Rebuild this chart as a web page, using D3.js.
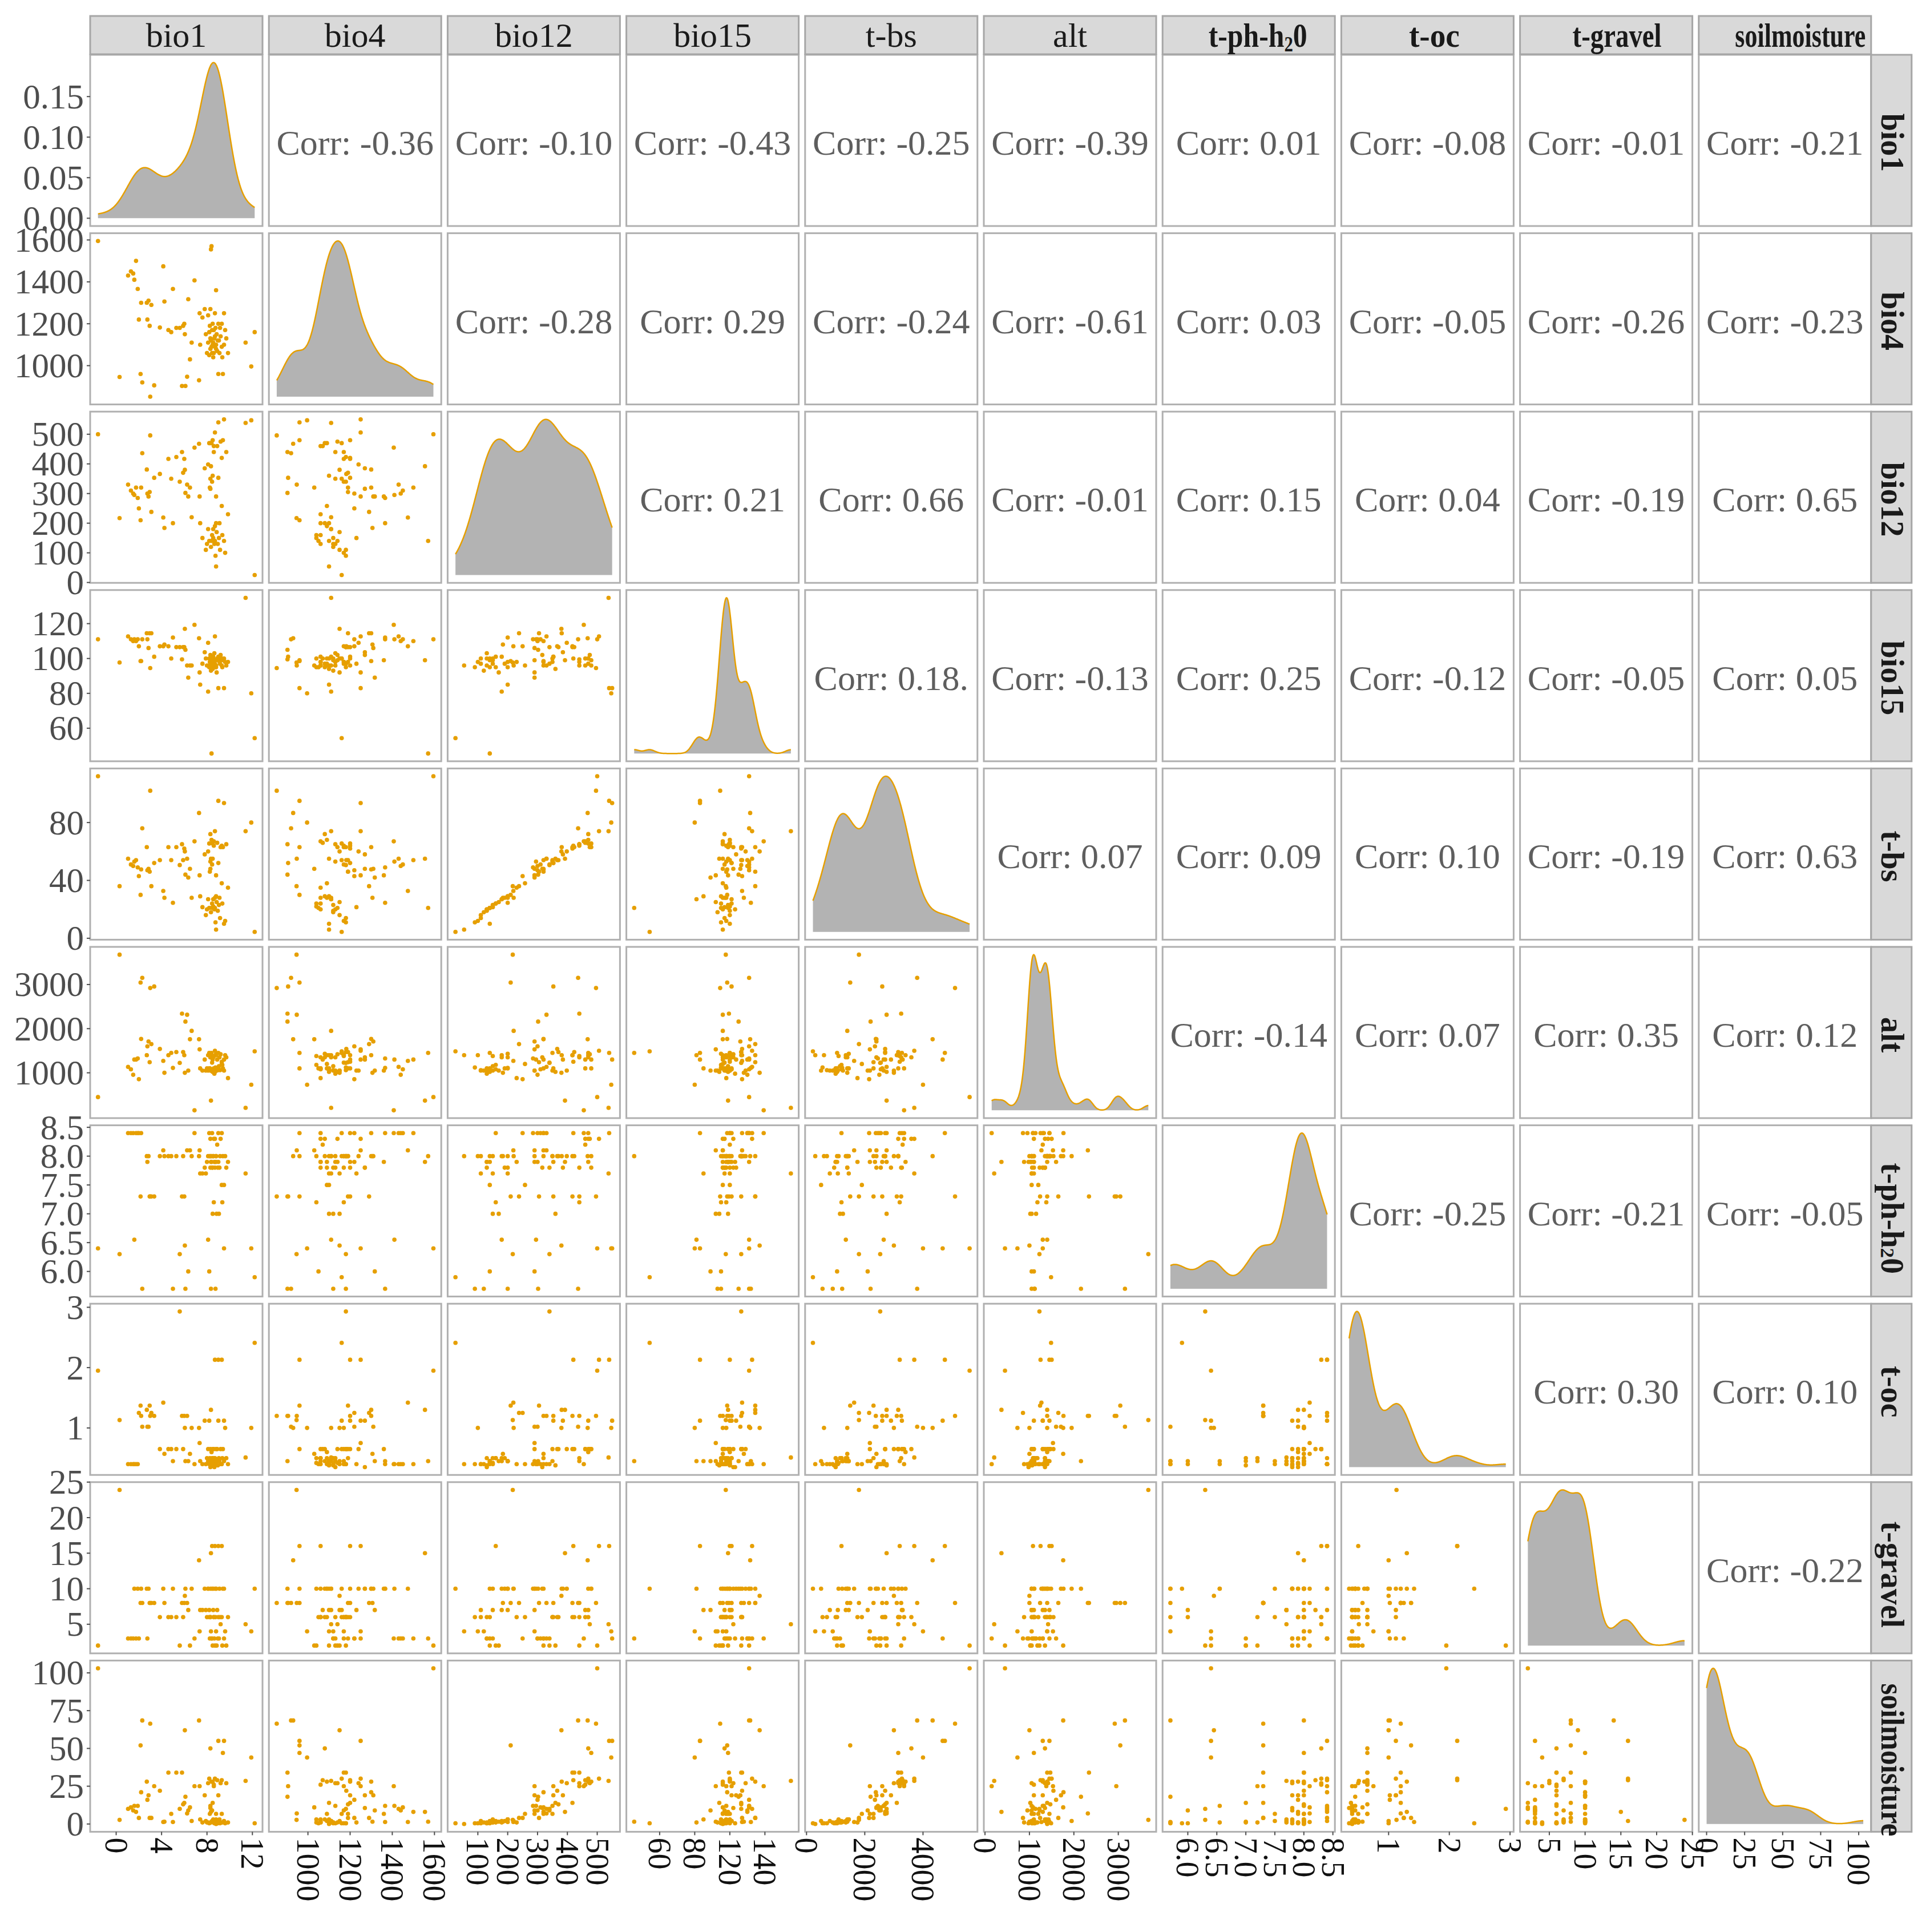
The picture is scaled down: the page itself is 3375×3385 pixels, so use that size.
<!DOCTYPE html>
<html>
<head>
<meta charset="utf-8">
<script src="https://cdn.jsdelivr.net/npm/d3@7"></script>
<style>
  body { margin: 0; background: #fff; }
  text { font-family: "Liberation Serif", "DejaVu Serif", serif; }
</style>
</head>
<body>
<svg id="chart"></svg>
<script>
// one value per site, same order in every array
const bio1 = [-1.6, 0.3,
  1.05, 1.3, 1.5, 1.6, 1.75, 1.9, 2.0, 2.15, 2.2, 2.3,
  2.7, 2.75, 2.85, 2.95, 3.0, 3.1, 3.35,
  3.85, 4.15, 4.25, 4.6, 4.85, 5.0, 5.3,
  5.6, 5.8, 5.9, 6.0, 6.05, 6.1, 6.25, 6.35, 6.5, 6.65, 6.9,
  7.3, 7.35, 7.4, 7.6, 7.8, 7.9, 8.0,
  8.1, 8.1, 8.2, 8.2, 8.25, 8.3, 8.3, 8.35, 8.35, 8.4, 8.45, 8.5, 8.5, 8.55, 8.6, 8.65, 8.7, 8.7, 8.75,
  8.8, 8.8, 8.85, 8.9, 9.0, 9.0, 9.05, 9.1, 9.15, 9.2, 9.3, 9.3, 9.35, 9.4, 9.5, 9.5, 9.6, 9.7, 9.85,
  8.3, 8.4, 8.45, 8.55, 8.6, 8.7, 8.8, 8.95,
  11.4, 11.9, 12.2];
const bio4 = [1595, 946,
  1430, 1450, 1440, 1410, 1500, 1366, 1220, 960, 1300, 920,
  1300, 1220, 1310, 1190, 852, 1290, 906,
  1182, 1474, 1306, 1170, 1160, 1366, 1180,
  1180, 903, 1190, 1200, 1150, 903, 947, 1317, 1030, 1110, 1407,
  930, 1250, 1100, 1230, 1270, 1150, 1060,
  1240, 1110, 1160, 1050, 1190, 1270, 1080, 1555, 1120, 1570, 1060, 1200, 1100, 1040, 1170, 1130, 1250, 1090, 1180,
  1360, 1100, 1150, 1070, 960, 1200, 1120, 1060, 1180, 1140, 1090, 1200, 1040, 960, 1250, 1100, 1170, 1130, 1060,
  1130, 1090, 1170, 1110, 1060, 1140, 1080, 1120,
  1110, 996, 1160];
const bio12 = [500, 217,
  330, 310, 300, 295, 320, 285, 250, 210, 320, 436,
  381, 300, 290, 305, 496, 238, 353,
  366, 219, 184, 417, 350, 200, 423,
  340, 440, 370, 417, 380, 302, 330, 290, 320, 220, 455,
  468, 290, 200, 150, 385, 110, 130,
  398, 180, 470, 140, 320, 316, 470, 392, 120, 140, 160, 480, 360, 150, 440, 130, 506, 190, 90,
  290, 54, 170, 460, 540, 353, 150, 200, 110, 475, 258, 420, 160, 480, 550, 140, 100, 440, 230,
  350, 470, 340, 180, 460, 140, 200, 130,
  538, 547, 25];
const bio15 = [111, 97.7,
  112.7, 111, 110, 111, 110, 111, 107, 98.5, 98.5, 111,
  114.5, 111, 106, 114.5, 94.5, 114.5, 101,
  107, 107, 108, 107, 100, 112, 106.5,
  106.5, 99.5, 106.5, 106.5, 117, 105, 96, 89, 96, 96, 119.3,
  111.6, 92, 85, 97, 103.6, 100, 96,
  109, 81, 100, 95, 98, 102, 97, 99, 93, 45.5, 101, 96, 94, 100, 98, 103, 112.7, 97, 95,
  99, 96, 92, 100, 83, 101, 99, 98, 97, 102, 96, 100, 95, 99, 83, 100, 98, 96, 98,
  98, 100, 97, 101, 96, 99, 95, 100,
  134.8, 80, 54.3];
const tbs = [112, 36,
  55, 51, 50, 53, 54, 49, 43, 30, 47.6, 76,
  63, 47, 48, 46, 102, 36, 52,
  54, 32.7, 28, 63, 54, 24.5, 63,
  50.6, 65, 54, 62, 60, 44, 55, 42, 48, 28, 67,
  86.6, 43.5, 29, 21.5, 58, 16, 20,
  60, 27, 65.5, 21, 46, 48, 72, 55, 18, 21, 24, 65.5, 55, 22, 64, 20, 74, 28, 11,
  43.5, 6, 25, 66, 95, 52, 23, 28, 14, 63, 38, 64, 24, 63, 93.5, 10, 12, 65, 35,
  53, 68, 51, 27, 67, 21, 29, 19,
  74, 80, 4.4];
const alt = [450, 3676,
  1135, 1080, 955, 1300, 1300, 1325, 855, 3045, 1766, 3150,
  1400, 1600, 1710, 1240, 2920, 1650, 2955,
  1540, 1270, 1000, 1400, 1450, 1110, 1470,
  1225, 2340, 1470, 1400, 1000, 2160, 2315, 1050, 1760, 1950, 150,
  1760, 1530, 1100, 1050, 1300, 1050, 1100,
  1050, 1400, 1450, 1100, 1100, 1350, 1350, 370, 1050, 1450, 1080, 1300, 1020, 1380, 1380, 980, 1500, 1100, 1120,
  1050, 1400, 1050, 1300, 1450, 1100, 1150, 1350, 1060, 1420, 1200, 1250, 1180, 1100, 1300, 1050, 1400, 1350, 880,
  1050, 1400, 1230, 1350, 1100, 1020, 1430, 1060,
  207, 730, 1487];
const tph = [6.4, 6.3,
  8.4, 8.4, 8.4, 6.55, 8.4, 8.4, 8.4, 7.3, 8.4, 5.7,
  8.0, 7.9, 8.0, 7.3, 7.3, 7.3, 7.3,
  8.0, 8.1, 8.0, 8.0, 8.0, 5.7, 8.0,
  6.3, 7.3, 8.0, 7.3, 6.45, 5.7, 8.1, 6.0, 8.1, 8.0, 8.4,
  8.0, 8.1, 7.7, 7.7, 7.8, 7.7, 7.9,
  8.0, 6.55, 8.4, 6.0, 8.0, 7.8, 8.3, 7.9, 5.7, 8.0, 8.4, 7.8, 7.0, 8.0, 7.2, 7.9, 8.3, 7.8, 5.7,
  7.9, 8.0, 7.0, 8.2, 8.4, 7.9, 7.0, 7.8, 8.0, 8.3, 7.5, 8.4, 7.2, 8.0, 6.4, 7.5, 8.0, 7.8, 7.9,
  8.0, 7.9, 7.8, 8.0, 8.3, 7.9, 8.0, 7.8,
  7.7, 6.4, 5.9];
const toc = [1.95, 1.13,
  0.4, 0.4, 0.4, 0.4, 0.4, 0.4, 1.25, 1.37, 1.2, 1.02,
  1.3, 1.02, 1.02, 1.37, 1.2, 1.25, 1.2,
  0.65, 1.42, 0.57, 0.65, 0.65, 0.45, 0.65,
  2.93, 1.2, 0.65, 1.2, 1.0, 0.45, 1.2, 0.45, 0.57, 1.0, 0.4,
  1.0, 0.75, 0.45, 0.4, 1.12, 0.4, 0.5,
  0.65, 0.45, 1.12, 0.4, 0.5, 0.35, 0.65, 1.3, 0.4, 0.45, 0.5, 0.65, 0.38, 0.42, 0.45, 0.35, 2.13, 0.5, 0.4,
  0.65, 0.4, 0.45, 0.65, 2.13, 1.12, 0.5, 0.45, 0.4, 0.65, 0.4, 2.13, 0.5, 0.65, 1.12, 0.45, 1.0, 0.5, 0.4,
  0.45, 0.6, 0.4, 0.5, 0.65, 0.42, 0.45, 0.38,
  0.51, 1.0, 2.41];
const gravel = [2, 23.9,
  3, 3, 3, 10, 3, 10, 3, 8, 10, 8,
  10, 3, 10, 8, 8, 8, 8,
  6, 10, 8, 6, 6, 10, 6,
  2, 8, 6, 8, 9, 10, 8, 7, 2, 10, 3,
  14, 4, 7, 7, 10, 7, 6,
  10, 10, 7, 6, 3, 10, 6, 15, 4, 3, 16, 10, 2, 10, 6, 3, 16, 10, 6,
  10, 4, 2, 7, 16, 6, 3, 10, 6, 5, 6, 16, 2, 10, 3, 10, 4, 2, 6,
  6, 10, 3, 7, 6, 2, 10, 3,
  5, 4, 10];
const soil = [103, 2.7,
  10, 11, 9, 12, 8, 12, 4, 52, 21, 68.5,
  28, 16, 19, 4, 66.4, 4, 25,
  22, 1.3, 1.5, 34, 6.7, 1.3, 34,
  10, 34, 13, 14, 62, 18, 7, 9, 11, 2, 25,
  68.5, 25, 3, 1, 19, 2, 1,
  27, 1, 30, 0.5, 6.7, 10.6, 50, 8, 1, 1.5, 2, 28, 14, 3, 25, 0.5, 30, 2, 0.5,
  6.7, 0, 1.5, 29, 55, 19, 1, 3, 0.5, 27, 6.7, 29, 1, 47, 55, 2, 0.5, 27, 1,
  12, 28, 9, 2, 26, 1, 3, 0.5,
  28.5, 44, 0.5];

const varNames = ['bio1', 'bio4', 'bio12', 'bio15', 't-bs', 'alt', 't-ph-h20', 't-oc', 't-gravel', 'soilmoisture'];
const series = [bio1, bio4, bio12, bio15, tbs, alt, tph, toc, gravel, soil];

// left axis ticks (row 1 is the bio1 density)
const rowTicks = [[0, 0.05, 0.10, 0.15], [1000, 1200, 1400, 1600], [0, 100, 200, 300, 400, 500],
  [60, 80, 100, 120], [0, 40, 80], [1000, 2000, 3000], [6.0, 6.5, 7.0, 7.5, 8.0, 8.5],
  [1, 2, 3], [5, 10, 15, 20, 25], [0, 25, 50, 75, 100]];
const rowTickLabels = [['0.00', '0.05', '0.10', '0.15'], ['1000', '1200', '1400', '1600'],
  ['0', '100', '200', '300', '400', '500'], ['60', '80', '100', '120'], ['0', '40', '80'],
  ['1000', '2000', '3000'], ['6.0', '6.5', '7.0', '7.5', '8.0', '8.5'], ['1', '2', '3'],
  ['5', '10', '15', '20', '25'], ['0', '25', '50', '75', '100']];
// bottom axis ticks, labels as printed in the figure
const colTicks = [[0, 4, 8, 12], [1000, 1200, 1400, 1600], [100, 200, 300, 400, 500],
  [60, 80, 100, 120], [0, 40, 80], [0, 1000, 2000, 3000], [6.0, 6.5, 7.0, 7.5, 8.0, 8.5],
  [1, 2, 3], [5, 10, 15, 20, 25], [0, 25, 50, 75, 100]];
const colTickLabels = [['0', '4', '8', '12'], ['1000', '1200', '1400', '1600'],
  ['100', '200', '300', '400', '500'], ['60', '80', '120', '140'], ['0', '2000', '4000'],
  ['0', '1000', '2000', '3000'], ['6.0', '6.5', '7.0', '7.5', '8.0', '8.5'], ['1', '2', '3'],
  ['5', '10', '15', '20', '25'], ['0', '25', '50', '75', '100']];

// upper triangle, row by row
const corrText = [
  '-0.36', '-0.10', '-0.43', '-0.25', '-0.39', '0.01', '-0.08', '-0.01', '-0.21',
  '-0.28', '0.29', '-0.24', '-0.61', '0.03', '-0.05', '-0.26', '-0.23',
  '0.21', '0.66', '-0.01', '0.15', '0.04', '-0.19', '0.65',
  '0.18.', '-0.13', '0.25', '-0.12', '-0.05', '0.05',
  '0.07', '0.09', '0.10', '-0.19', '0.63',
  '-0.14', '0.07', '0.35', '0.12',
  '-0.25', '-0.21', '-0.05',
  '0.30', '0.10',
  '-0.22'];

// layout
const W = 3375, H = 3385;
const left0 = 158, colStep = 313.2, panelW = 302;
const top0 = 96, rowStep = 312.6, panelH = 300;
const nVar = series.length;
const colX = i => left0 + i * colStep;
const rowY = j => top0 + j * rowStep;
const orange = '#E69F00';
// the last four top labels are bold and squeezed in the figure
const topBold = [false, false, false, false, false, false, true, true, true, true];
const topFit = [0, 0, 0, 0, 0, 0, 173, 89, 156, 229];
const topShift = [0, 0, 0, 0, 0, 0, 16, 12, 19, 27];
const rightShift = [0, 0, 0, 0, 0, 0, 9, 0, 8, 20];

const svg = d3.select('#chart').attr('width', W).attr('height', H);
svg.append('rect').attr('width', W).attr('height', H).attr('fill', '#fff');

// ggplot style range with 5% expansion
const domains = series.map(v => {
  const e = d3.extent(v), pad = (e[1] - e[0]) * 0.05;
  return [e[0] - pad, e[1] + pad];
});
const xScales = domains.map((d, i) => d3.scaleLinear().domain(d).range([colX(i), colX(i) + panelW]));
const yScales = domains.map((d, j) => d3.scaleLinear().domain(d).range([rowY(j) + panelH, rowY(j)]));

// gaussian kde with R's bw.nrd0
function bwNrd0(v) {
  const sd = d3.deviation(v);
  const iqr = d3.quantile(v, 0.75) - d3.quantile(v, 0.25);
  let lo = Math.min(sd, iqr / 1.34);
  if (!lo) lo = sd || 1;
  return 0.9 * lo * Math.pow(v.length, -0.2);
}
function kde(v) {
  const bw = bwNrd0(v);
  const [a, b] = d3.extent(v);
  return d3.range(512).map(k => {
    const x = a + (b - a) * k / 511;
    const d = d3.mean(v, t => Math.exp(-0.5 * ((x - t) / bw) ** 2)) / (bw * Math.sqrt(2 * Math.PI));
    return [x, d];
  });
}
const densities = series.map(kde);
const densScales = densities.map((dens, j) => {
  const m = d3.max(dens, d => d[1]);
  return d3.scaleLinear().domain([-0.05 * m, 1.05 * m]).range([rowY(j) + panelH, rowY(j)]);
});

// panels
for (let j = 0; j < nVar; j++) {
  for (let i = 0; i < nVar; i++) {
    const g = svg.append('g');
    g.append('rect')
      .attr('x', colX(i)).attr('y', rowY(j))
      .attr('width', panelW).attr('height', panelH)
      .attr('fill', '#fff');
    if (i === j) {
      const x = xScales[i], yd = densScales[j];
      g.append('path')
        .attr('d', d3.area().x(d => x(d[0])).y0(yd(0)).y1(d => yd(d[1]))(densities[i]))
        .attr('fill', '#b3b3b3');
      g.append('path')
        .attr('d', d3.line().x(d => x(d[0])).y(d => yd(d[1]))(densities[i]))
        .attr('fill', 'none').attr('stroke', orange).attr('stroke-width', 2.5);
    } else if (i < j) {
      const x = xScales[i], y = yScales[j];
      g.selectAll('circle').data(d3.range(bio1.length)).join('circle')
        .attr('cx', k => x(series[i][k]))
        .attr('cy', k => y(series[j][k]))
        .attr('r', 3.8)
        .attr('fill', orange);
    } else {
      // position in the upper triangle list
      const k = j * nVar - j * (j + 1) / 2 + (i - j - 1);
      g.append('text')
        .attr('x', colX(i) + panelW / 2)
        .attr('y', rowY(j) + panelH / 2 + 4)
        .attr('text-anchor', 'middle')
        .attr('dominant-baseline', 'central')
        .attr('font-size', 62)
        .attr('fill', '#5e5e5e')
        .text('Corr: ' + corrText[k]);
    }
    g.append('rect')
      .attr('x', colX(i)).attr('y', rowY(j))
      .attr('width', panelW).attr('height', panelH)
      .attr('fill', 'none').attr('stroke', '#b0b0b0').attr('stroke-width', 3);
  }
}

// label text with a subscript 2 in "h2o"
function labelText(sel, name) {
  if (name === 't-ph-h20') {
    sel.append('tspan').text('t-ph-h');
    sel.append('tspan').attr('font-size', '62%').attr('dy', 8).text('2');
    sel.append('tspan').attr('dy', -8).text('0');
  } else {
    sel.text(name);
  }
}

// top strips
varNames.forEach((name, i) => {
  svg.append('rect')
    .attr('x', colX(i)).attr('y', 28)
    .attr('width', panelW).attr('height', 67)
    .attr('fill', '#d9d9d9').attr('stroke', '#a6a6a6').attr('stroke-width', 3);
  const t = svg.append('text')
    .attr('x', colX(i) + panelW / 2 + topShift[i])
    .attr('y', 82)
    .attr('text-anchor', 'middle')
    .attr('font-size', 60)
    .attr('font-weight', topBold[i] ? 'bold' : 'normal')
    .attr('fill', '#1a1a1a');
  if (topFit[i]) t.attr('textLength', topFit[i]).attr('lengthAdjust', 'spacingAndGlyphs');
  labelText(t, name);
});

// right strips
varNames.forEach((name, j) => {
  const sx = colX(nVar - 1) + panelW;
  svg.append('rect')
    .attr('x', sx).attr('y', rowY(j))
    .attr('width', 71).attr('height', panelH)
    .attr('fill', '#d9d9d9').attr('stroke', '#a6a6a6').attr('stroke-width', 3);
  const t = svg.append('text')
    .attr('transform', `translate(${sx + 37},${rowY(j) + panelH / 2 + 4 + rightShift[j]}) rotate(90)`)
    .attr('text-anchor', 'middle')
    .attr('dominant-baseline', 'central')
    .attr('font-size', 56)
    .attr('font-weight', 'bold')
    .attr('fill', '#1a1a1a');
  if (name === 'soilmoisture') t.attr('textLength', 268).attr('lengthAdjust', 'spacingAndGlyphs');
  labelText(t, name);
});

// left axis
for (let j = 0; j < nVar; j++) {
  const y = j === 0 ? densScales[0] : yScales[j];
  const g = svg.append('g');
  rowTicks[j].forEach((v, n) => {
    g.append('line')
      .attr('x1', left0 - 6).attr('x2', left0)
      .attr('y1', y(v)).attr('y2', y(v))
      .attr('stroke', '#4d4d4d').attr('stroke-width', 2);
    g.append('text')
      .attr('x', left0 - 11).attr('y', y(v))
      .attr('text-anchor', 'end')
      .attr('dominant-baseline', 'central')
      .attr('font-size', 61)
      .attr('fill', '#4d4d4d')
      .text(rowTickLabels[j][n]);
  });
}

// bottom axis
const axisY = rowY(nVar - 1) + panelH;
for (let i = 0; i < nVar; i++) {
  const x = xScales[i];
  const g = svg.append('g');
  colTicks[i].forEach((v, n) => {
    g.append('line')
      .attr('x1', x(v)).attr('x2', x(v))
      .attr('y1', axisY).attr('y2', axisY + 6)
      .attr('stroke', '#4d4d4d').attr('stroke-width', 2);
    g.append('text')
      .attr('transform', `translate(${x(v)},${axisY + 10}) rotate(90)`)
      .attr('text-anchor', 'start')
      .attr('dominant-baseline', 'central')
      .attr('font-size', 56)
      .attr('fill', '#111')
      .text(colTickLabels[i][n]);
  });
}
</script>
</body>
</html>
